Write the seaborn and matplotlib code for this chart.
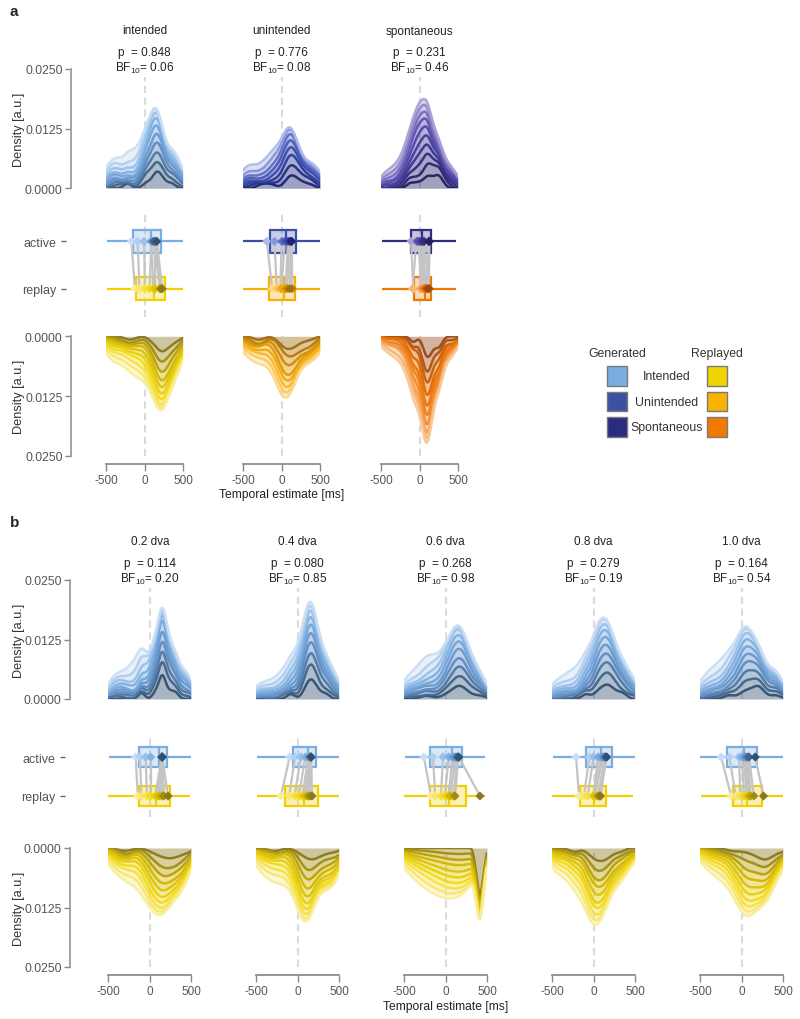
import numpy as np
import pandas as pd
import seaborn as sns
import matplotlib.pyplot as plt
from matplotlib.colors import to_rgba


# ==================================================
# 1. style
# ==================================================
sns.set_theme(style="ticks")
plt.rcParams["font.family"] = ["Liberation Sans", "DejaVu Sans"]
plt.rcParams["axes.unicode_minus"] = False
plt.rcParams["mathtext.fontset"] = "custom"
plt.rcParams["mathtext.rm"] = "Liberation Sans"
plt.rcParams["mathtext.it"] = "Liberation Sans:italic"
plt.rcParams["mathtext.bf"] = "Liberation Sans:bold"


# ==================================================
# 2. data (temporal estimates per participant, ms)
# ==================================================
a_titles = ["intended", "unintended", "spontaneous"]
a_p = ["0.848", "0.776", "0.231"]
a_bf = ["0.06", "0.08", "0.46"]

b_titles = ["0.2 dva", "0.4 dva", "0.6 dva", "0.8 dva", "1.0 dva"]
b_p = ["0.114", "0.080", "0.268", "0.279", "0.164"]
b_bf = ["0.20", "0.85", "0.98", "0.19", "0.54"]

density_ticks = [0.0, 0.0125, 0.025]
density_ticklabels = ["0.0000", "0.0125", "0.0250"]
time_ticks = [-500, 0, 500]
row_labels = ["active", "replay"]
legend_labels = ["Intended", "Unintended", "Spontaneous"]

a_intended_active = [
    [-480, -330, -260, -190, -150, -110, -40, 380],
    [-460, -350, -210, -120, -60, 30, 140, 370],
    [-430, -310, -160, -50, 40, 90, 240, 490],
    [-490, -240, -80, 60, 120, 160, 310, 440],
    [-450, -280, -20, 80, 90, 130, 260, 420],
    [-470, -170, 10, 110, 150, 190, 330, 460],
    [-420, -130, 50, 120, 160, 210, 290, 500],
    [-380, -70, 70, 130, 170, 230, 360, 450],
    [-340, -20, 40, 90, 140, 220, 270, 410],
    [-220, 20, 110, 150, 170, 200, 250, 350],
]
a_intended_replay = [
    [-490, -380, -270, -160, -90, -40, 120, 330],
    [-460, -330, -220, -110, -20, 60, 190, 470],
    [-440, -250, -130, -30, 40, 140, 260, 420],
    [-480, -300, -60, 30, 100, 180, 290, 480],
    [-420, -180, -10, 80, 150, 230, 340, 450],
    [-470, -140, 20, 110, 170, 240, 360, 490],
    [-410, -70, 110, 180, 220, 270, 380, 460],
    [-350, -50, 150, 200, 230, 280, 310, 500],
    [-280, -100, 130, 190, 220, 250, 350, 430],
    [-190, 120, 190, 220, 240, 260, 330, 410],
]
a_unintended_active = [
    [-490, -420, -310, -230, -160, -90, 20, 380],
    [-470, -360, -190, -130, -60, 30, 150, 490],
    [-500, -280, -150, -40, 40, 110, 230, 440],
    [-450, -220, -80, 10, 70, 130, 280, 500],
    [-480, -120, -30, 60, 100, 160, 340, 460],
    [-430, -70, 50, 90, 120, 190, 260, 480],
    [-370, -20, 60, 110, 150, 220, 310, 420],
    [-260, -140, 80, 100, 140, 180, 250, 360],
]
a_unintended_replay = [
    [-480, -390, -280, -170, -80, -30, 90, 420],
    [-460, -320, -190, -90, -40, 20, 180, 490],
    [-500, -240, -120, -50, 10, 70, 250, 460],
    [-440, -230, -160, -60, 50, 100, 290, 500],
    [-410, -110, -20, 30, 70, 130, 210, 480],
    [-470, -70, 10, 40, 90, 150, 330, 440],
    [-360, -250, 60, 100, 170, 260, 330, 390],
    [-300, -10, 30, 80, 120, 160, 230, 350],
]
a_spontaneous_active = [
    [-470, -340, -230, -160, -60, 40, 130, 300],
    [-420, -290, -180, -70, -10, 80, 170, 390],
    [-380, -250, -140, -30, 20, 120, 210, 440],
    [-490, -200, -100, -50, 0, 50, 150, 330],
    [-330, -150, -60, -20, 30, 70, 170, 460],
    [-440, -130, -40, 10, 50, 90, 200, 370],
    [-270, -90, -30, 20, 60, 110, 230, 480],
    [-210, -70, -10, 40, 80, 120, 250, 410],
    [-160, -50, 60, 100, 140, 190, 260, 350],
    [-120, -20, 70, 110, 150, 220, 240, 290],
]
a_spontaneous_replay = [
    [-460, -330, -190, -100, -60, 0, 110, 340],
    [-400, -280, -240, -130, -50, 50, 150, 420],
    [-490, -170, -80, -10, 40, 80, 190, 300],
    [-300, -110, -30, 30, 70, 110, 220, 460],
    [-430, -250, -60, 50, 80, 120, 180, 380],
    [-210, -60, -30, 60, 90, 130, 240, 350],
    [-150, -70, -10, 70, 100, 140, 210, 280],
    [-360, 40, 80, 100, 150, 200, 320, 470],
    [-120, 20, 50, 80, 110, 140, 260, 420],
    [-80, 60, 90, 110, 130, 170, 230, 270],
]

b_02_active = [
    [-470, -310, -200, -180, -160, -120, 90, 330],
    [-440, -260, -170, -130, -110, -50, 220, 460],
    [-490, -360, -140, -60, -40, 30, 270, 410],
    [-420, -230, -150, 0, 20, 150, 250, 490],
    [-380, -80, 60, 140, 150, 170, 300, 440],
    [-330, -30, 60, 140, 160, 210, 360, 470],
    [-460, -210, 40, 130, 150, 190, 280, 380],
    [-280, -90, 100, 140, 150, 230, 340, 500],
    [-400, 0, 130, 145, 160, 200, 260, 420],
    [-100, 70, 135, 145, 155, 170, 240, 310],
]
b_02_replay = [
    [-480, -360, -250, -170, -120, -60, 80, 300],
    [-450, -320, -210, -130, -70, 20, 150, 420],
    [-500, -280, -160, -80, 10, 90, 220, 380],
    [-410, -230, -110, -20, 40, 140, 260, 470],
    [-470, -190, -50, 30, 100, 170, 300, 440],
    [-380, -140, -10, 60, 130, 200, 330, 490],
    [-430, -90, 20, 90, 150, 230, 350, 410],
    [-340, -40, 60, 120, 180, 250, 370, 460],
    [-260, 0, 100, 150, 190, 270, 320, 400],
    [-300, 50, 130, 200, 240, 290, 360, 450],
]
b_04_active = [
    [-470, -300, -210, -130, -60, 30, 170, 360],
    [-420, -250, -150, -70, 10, 90, 220, 450],
    [-490, -180, -90, 0, 80, 150, 260, 400],
    [-380, -110, -30, 60, 130, 180, 290, 480],
    [-440, -60, 40, 110, 150, 200, 320, 470],
    [-330, -20, 70, 130, 160, 220, 350, 500],
    [-240, 20, 100, 140, 170, 240, 310, 430],
    [-460, 50, 110, 150, 180, 230, 280, 390],
    [-160, 60, 120, 150, 170, 210, 270, 420],
    [-80, 90, 130, 155, 175, 200, 250, 340],
]
b_04_replay = [
    [-490, -400, -310, -230, -170, -90, 60, 330],
    [-460, -350, -260, -140, -60, 20, 160, 440],
    [-430, -290, -190, -80, 10, 90, 250, 480],
    [-480, -240, -120, -20, 50, 120, 300, 460],
    [-410, -180, -50, 30, 90, 150, 340, 500],
    [-370, -100, 0, 70, 110, 190, 370, 430],
    [-320, -30, 40, 100, 130, 220, 360, 470],
    [-450, 20, 80, 110, 140, 260, 350, 410],
    [-200, 60, 100, 130, 170, 280, 390, 490],
    [-280, 40, 120, 150, 200, 240, 330, 450],
]
b_06_active = [
    [-490, -380, -300, -270, -250, -190, -60, 280],
    [-450, -330, -210, -180, -120, -30, 110, 420],
    [-480, -240, -160, -80, 20, 90, 200, 350],
    [-420, -190, -110, 0, 80, 140, 240, 460],
    [-460, -150, -40, 60, 110, 160, 290, 390],
    [-360, -200, -20, 90, 130, 180, 250, 330],
    [-410, -90, 30, 110, 150, 190, 310, 480],
    [-300, -170, 50, 120, 160, 210, 270, 440],
    [-440, -50, 70, 140, 170, 220, 300, 370],
    [-230, 10, 100, 150, 170, 200, 260, 410],
]
b_06_replay = [
    [-490, -400, -310, -220, -130, -40, 60, 180],
    [-460, -350, -260, -170, -80, 10, 120, 240],
    [-430, -330, -200, -100, -10, 80, 190, 300],
    [-480, -280, -150, -60, 40, 130, 230, 320],
    [-410, -240, -120, -20, 90, 170, 260, 360],
    [-370, -180, -70, 20, 110, 200, 280, 340],
    [-450, -300, -140, 0, 100, 220, 290, 380],
    [-340, -210, -50, 50, 150, 250, 310, 420],
    [-500, -160, -30, 70, 160, 230, 330, 400],
    [360, 385, 400, 410, 420, 430, 445, 470],
]
b_08_active = [
    [-480, -350, -270, -220, -200, -120, 20, 330],
    [-440, -310, -190, -80, -20, 60, 180, 460],
    [-490, -240, -130, -40, 40, 110, 240, 400],
    [-400, -170, -70, 20, 90, 150, 270, 480],
    [-460, -110, -10, 60, 120, 180, 300, 420],
    [-330, -60, 30, 90, 140, 200, 320, 500],
    [-420, -30, 50, 110, 150, 220, 350, 440],
    [-280, 0, 70, 120, 160, 240, 290, 380],
    [-150, 10, 80, 130, 170, 230, 260, 470],
    [-90, 40, 100, 140, 180, 210, 280, 360],
]
b_08_replay = [
    [-490, -390, -290, -200, -150, -80, 30, 280],
    [-460, -340, -240, -140, -90, -20, 90, 350],
    [-480, -300, -190, -100, -40, 30, 130, 400],
    [-430, -260, -150, -60, 60, 170, 280, 460],
    [-470, -220, -110, -30, 20, 80, 200, 330],
    [-400, -180, -70, -10, 40, 100, 230, 430],
    [-360, -130, -50, 60, 120, 250, 300, 477],
    [-500, -90, -20, 30, 70, 140, 210, 380],
    [-320, -60, 0, 50, 90, 160, 270, 440],
    [-230, -40, 20, 60, 100, 150, 190, 310],
]
b_10_active = [
    [-500, -400, -290, -260, -230, -180, -20, 310],
    [-450, -350, -220, -170, -120, -40, 90, 420],
    [-470, -300, -200, -60, 0, 60, 180, 480],
    [-430, -240, -110, -20, 30, 100, 230, 390],
    [-490, -160, -70, 10, 50, 120, 270, 460],
    [-380, -210, -30, 20, 70, 140, 300, 500],
    [-440, -130, 0, 40, 80, 150, 250, 350],
    [-330, -90, 10, 60, 100, 170, 280, 440],
    [-270, -50, 30, 70, 110, 200, 330, 470],
    [-150, 20, 60, 140, 190, 210, 240, 410],
]
b_10_replay = [
    [-480, -370, -260, -160, -90, -20, 110, 350],
    [-450, -320, -200, -110, -30, 50, 180, 430],
    [-490, -270, -150, -50, 20, 90, 240, 470],
    [-410, -230, -80, 0, 60, 130, 270, 400],
    [-440, -180, -40, 40, 80, 160, 250, 490],
    [-340, -120, -10, 60, 100, 200, 260, 460],
    [-390, -60, 20, 70, 120, 230, 300, 420],
    [-290, -20, 50, 80, 140, 240, 320, 380],
    [-210, 10, 60, 90, 210, 260, 340, 450],
    [-100, 70, 180, 250, 280, 310, 360, 500],
]

# kernel bandwidth factors (smoothing only), per column
bw_active_a = [0.45, 0.5, 0.55]
bw_replay_a = [0.6, 0.55, 0.6]
bw_active_b = [0.5, 0.6, 0.6, 0.55, 0.6]
bw_replay_b = [0.55, 0.55, 1.0, 0.6, 0.7]


# ==================================================
# 3. colours
# ==================================================
ramp_int_act = ["#c9def5", "#80b1e3", "#5d8cc2", "#33506f"]
ramp_int_rep = ["#f9ee9a", "#f3da1a", "#d2b800", "#8a781e"]
ramp_uni_act = ["#b0b9ea", "#5063c4", "#2f3f9e", "#1c2470"]
ramp_uni_rep = ["#fdd98e", "#f9b418", "#d89000", "#a06c10"]
ramp_spo_act = ["#aaa0d6", "#5c50b2", "#3a328e", "#22205e"]
ramp_spo_rep = ["#f9c898", "#f48a28", "#e06a00", "#98481a"]

box_int = ("#78aee2", "#f0d000")
box_uni = ("#3a4fa6", "#f8b000")
box_spo = ("#2e2e88", "#f07800")

legend_gen = ["#7aaee0", "#3b52a4", "#2b2b80"]
legend_rep = ["#f0d400", "#f8b200", "#f07a00"]

GRID = "#888888"
TXT = "#555555"


# ==================================================
# 4. helpers
# ==================================================
W, H = 800, 1020
fig = plt.figure(figsize=(W / 100, H / 100), dpi=100)


def add_ax(x0, x1, y0, y1):
    # pixel box, origin top-left
    return fig.add_axes([x0 / W, 1 - y1 / H, (x1 - x0) / W, (y1 - y0) / H])


def to_long(groups):
    rows = [(f"S{i + 1:02d}", v) for i, g in enumerate(groups) for v in g]
    return pd.DataFrame(rows, columns=["participant", "estimate"])


def zero_line(ax, ymax=1.0):
    ax.axvline(0, ymax=ymax, color="#dadada", lw=1.5,
               ls=(0, (3.5, 2.2)), zorder=0)


def draw_density(ax, groups, ramp, inverted, bw):
    df = to_long(groups)
    ids = [f"S{i + 1:02d}" for i in range(len(groups))]
    pal = sns.blend_palette(ramp, len(groups))
    kw = dict(data=df, x="estimate", hue="participant", hue_order=ids,
              palette=pal, multiple="stack", common_norm=False,
              clip=(-500, 500), bw_adjust=bw, legend=False, ax=ax)
    sns.kdeplot(fill=True, alpha=0.42, linewidth=0, **kw)
    sns.kdeplot(fill=False, alpha=0.95, linewidth=1.8, **kw)
    zero_line(ax, 1.0 if inverted else 0.93)
    ax.set_xlim(-500, 500)
    ax.set_ylim((0.025, 0) if inverted else (0, 0.025))
    ax.set_xlabel("")
    ax.set_ylabel("")


def draw_boxes(ax, act, rep, ramp_a, ramp_r, cols, ylim):
    for cond, groups, col in [("active", act, cols[0]), ("replay", rep, cols[1])]:
        d = to_long(groups).assign(cond=cond)
        sns.boxplot(data=d, x="estimate", y="cond", order=row_labels,
                    orient="h", whis=(0, 100), width=0.5, showfliers=False,
                    showcaps=False, color=col, linecolor=col, saturation=1,
                    linewidth=1.6, ax=ax)
        ax.patches[-1].set_facecolor(to_rgba(col, 0.28))
    med_a = [np.median(g) for g in act]
    med_r = [np.median(g) for g in rep]
    for a, r in zip(med_a, med_r):
        ax.plot([a, r], [0, 1], color="#c4c4c4", lw=1.6, zorder=3)
    ax.scatter(med_a, np.zeros(len(med_a)), marker="D", s=22,
               c=sns.blend_palette(ramp_a, len(med_a)), linewidths=0, zorder=4)
    ax.scatter(med_r, np.ones(len(med_r)), marker="D", s=22,
               c=sns.blend_palette(ramp_r, len(med_r)), linewidths=0, zorder=4)
    zero_line(ax)
    ax.set_xlim(-500, 500)
    ax.set_ylim(*ylim)
    ax.set_xlabel("")
    ax.set_ylabel("")


def style_density_axis(ax, first, bottom, x0, w):
    for s in ["top", "right"]:
        ax.spines[s].set_visible(False)
    if first:
        ax.spines["left"].set_position(("outward", x0 - 81))
        ax.spines["left"].set_color("#999999")
        ax.set_yticks(density_ticks, labels=density_ticklabels)
        ax.tick_params(axis="y", length=4.3, width=1, color=GRID,
                       labelsize=8.8, labelcolor=TXT, pad=2)
        ax.set_ylabel("Density [a.u.]", fontsize=9.2, color="#333333")
        ax.yaxis.set_label_coords(-(x0 - 25) / w, 0.5)
    else:
        ax.spines["left"].set_visible(False)
        ax.set_yticks([])
    if bottom:
        ax.spines["bottom"].set_position(("outward", 6))
        ax.spines["bottom"].set_color(GRID)
        ax.set_xticks(time_ticks)
        ax.tick_params(axis="x", length=5, width=1, color=GRID,
                       labelsize=8.5, labelcolor=TXT, pad=2)
    else:
        ax.spines["bottom"].set_visible(False)
        ax.set_xticks([])


def draw_panel(lay, titles, p_vals, bf_vals, act_sets, rep_sets,
               act_ramps, rep_ramps, box_cols, act_bw, rep_bw,
               xlabel_col, xlabel_top):
    for j, x0 in enumerate(lay["cols"]):
        x1 = x0 + lay["w"]
        ax_t = add_ax(x0, x1, *lay["top"])
        ax_m = add_ax(x0, x1, *lay["mid"])
        ax_b = add_ax(x0, x1, *lay["bot"])

        draw_density(ax_t, act_sets[j], act_ramps[j], False, act_bw[j])
        draw_density(ax_b, rep_sets[j], rep_ramps[j], True, rep_bw[j])
        draw_boxes(ax_m, act_sets[j], rep_sets[j], act_ramps[j], rep_ramps[j],
                   box_cols[j], lay["mid_ylim"])

        style_density_axis(ax_t, j == 0, False, x0, lay["w"])
        style_density_axis(ax_b, j == 0, True, x0, lay["w"])

        # middle axis
        for s in ax_m.spines.values():
            s.set_visible(False)
        ax_m.set_xticks([])
        if j == 0:
            ax_m.spines["left"].set_position(("outward", x0 - 77))
            ax_m.set_yticks([0, 1], labels=row_labels)
            ax_m.tick_params(axis="y", length=3.5, width=1, color="#666666",
                             labelsize=9, labelcolor=TXT, pad=3)
        else:
            ax_m.set_yticks([])

        # titles and statistics
        h_top = lay["top"][1] - lay["top"][0]
        tr = ax_t.get_xaxis_transform()
        txt = dict(transform=tr, ha="center", va="center", color="#222222",
                   clip_on=False)
        ax_t.text(0, 1 + 38.5 / h_top, titles[j], fontsize=8.5, **txt)
        ax_t.text(0, 1 + 17 / h_top, f"p  = {p_vals[j]}", fontsize=8.5, **txt)
        ax_t.text(0, 1 + 1.5 / h_top, rf"BF$_{{10}}$= {bf_vals[j]}",
                  fontsize=8.5, **txt)

        if j == xlabel_col:
            h_bot = lay["bot"][1] - lay["bot"][0]
            ax_b.set_xlabel("Temporal estimate [ms]", fontsize=8.7,
                            color="#222222")
            ax_b.xaxis.set_label_coords(0.5, -(xlabel_top - lay["bot"][1]) / h_bot)


# ==================================================
# 5. panel a
# ==================================================
layout_a = dict(cols=[106, 243.3, 381], w=77, top=(70, 189.3),
                mid=(214, 318), bot=(337.3, 457), mid_ylim=(1.6, -0.6))
draw_panel(layout_a, a_titles, a_p, a_bf,
           [a_intended_active, a_unintended_active, a_spontaneous_active],
           [a_intended_replay, a_unintended_replay, a_spontaneous_replay],
           [ramp_int_act, ramp_uni_act, ramp_spo_act],
           [ramp_int_rep, ramp_uni_rep, ramp_spo_rep],
           [box_int, box_uni, box_spo], bw_active_a, bw_replay_a, 1, 489)

# ==================================================
# 6. panel b
# ==================================================
layout_b = dict(cols=[108.3, 256, 404, 552, 700], w=83, top=(581, 700),
                mid=(737, 818), bot=(849, 968), mid_ylim=(1.54, -0.54))
draw_panel(layout_b, b_titles, b_p, b_bf,
           [b_02_active, b_04_active, b_06_active, b_08_active, b_10_active],
           [b_02_replay, b_04_replay, b_06_replay, b_08_replay, b_10_replay],
           [ramp_int_act] * 5, [ramp_int_rep] * 5, [box_int] * 5,
           bw_active_b, bw_replay_b, 2, 1001)

# ==================================================
# 7. legend
# ==================================================
ax_l = add_ax(592, 742, 338.75, 440.75)
ax_l.set_xlim(-0.5, 2.5)
ax_l.set_ylim(2.5, -1.5)
ax_l.axis("off")
rows_idx = np.arange(len(legend_labels))
ax_l.scatter(np.zeros(len(rows_idx)), rows_idx, marker="s", s=200,
             c=legend_gen, edgecolors="#7a7a7a", linewidths=1, clip_on=False)
ax_l.scatter(np.full(len(rows_idx), 2), rows_idx, marker="s", s=200,
             c=legend_rep, edgecolors="#7a7a7a", linewidths=1, clip_on=False)
for i, lab in enumerate(legend_labels):
    ax_l.text(1, i, lab, ha="center", va="center", fontsize=8.8, color="#333333")
ax_l.text(0, -0.9, "Generated", ha="center", va="center", fontsize=8.8,
          color="#333333")
ax_l.text(2, -0.9, "Replayed", ha="center", va="center", fontsize=8.8,
          color="#333333")

# panel letters
fig.text(10 / W, 1 - 12 / H, "a", fontsize=11, fontweight="bold", va="center")
fig.text(10 / W, 1 - 523 / H, "b", fontsize=11, fontweight="bold", va="center")

fig.savefig("out.png", dpi=100)
plt.close(fig)
